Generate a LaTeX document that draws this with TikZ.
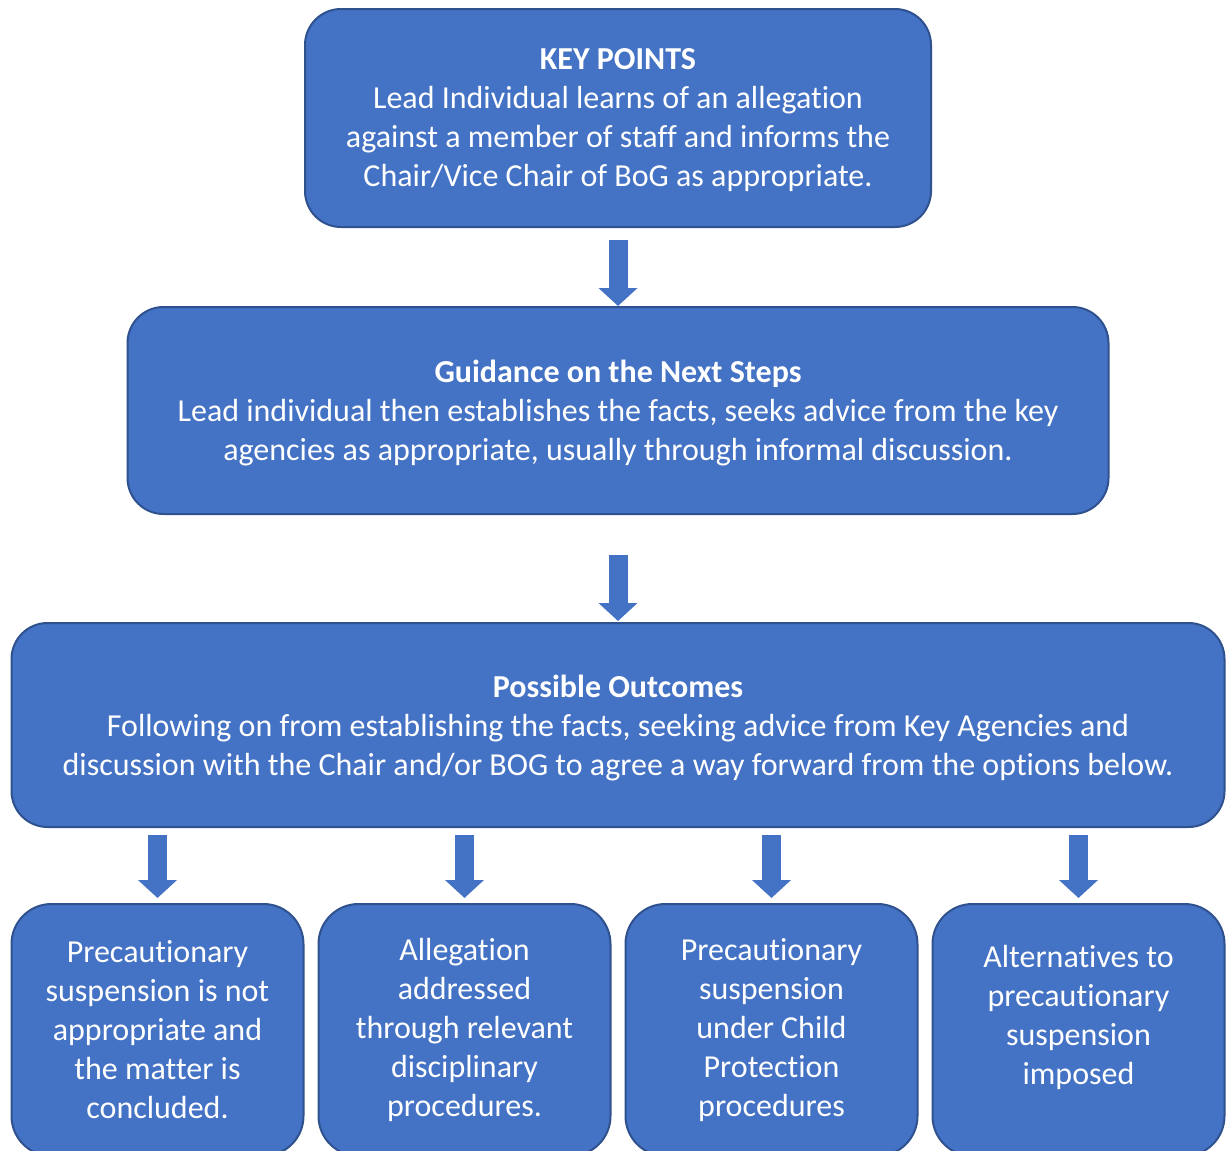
\documentclass[tikz,border=0pt]{standalone}
\usepackage{fontspec}
\setmainfont[Ligatures=NoCommon]{Carlito}
\usetikzlibrary{arrows.meta, positioning}
\definecolor{boxblue}{HTML}{4472C4}
\definecolor{edgeblue}{HTML}{2F528F}

\begin{document}
\begin{tikzpicture}[
    x=1pt, y=-1pt,
    box/.style={rectangle, rounded corners=36pt, draw=edgeblue, line width=2pt, fill=boxblue, text=white, align=center, font=\fontsize{32}{39}\selectfont, inner sep=0pt},
    step box/.style={box, text depth=-4pt},
    outcome/.style={box, minimum width=292pt, minimum height=252pt, rounded corners=40pt},
    arrow/.style={draw=boxblue, line width=19pt, -{Triangle[length=18pt, width=38pt]}}
]
\useasboundingbox (0,0) rectangle (1226,1151);

% Main steps
\node (keypoints) [step box, minimum width=626pt, minimum height=218pt] at (618,118) {\textbf{KEY POINTS}\\Lead Individual learns of an allegation\\against a member of staff and informs the\\Chair/Vice Chair of BoG as appropriate.};

\node (guidance) [step box, minimum width=981pt, minimum height=207pt, below=78pt of keypoints] {\textbf{Guidance on the Next Steps}\\Lead individual then establishes the facts, seeks advice from the key\\agencies as appropriate, usually through informal discussion.};

\node (outcomes) [step box, minimum width=1213pt, minimum height=204pt, below=107pt of guidance] {\textbf{Possible Outcomes}\\Following on from establishing the facts, seeking advice from Key Agencies and\\discussion with the Chair and/or BOG to agree a way forward from the options below.};

% Options
\node (notsuspended) [outcome, anchor=north west] at ([yshift=-75pt]outcomes.south west) {Precautionary\\suspension is not\\appropriate and\\the matter is\\concluded.};
\node (disciplinary) [outcome, right=13pt of notsuspended] {Allegation\\addressed\\through relevant\\disciplinary\\procedures.};
\node (childprotection) [outcome, right=13pt of disciplinary] {Precautionary\\suspension\\under Child\\Protection\\procedures};
\node (alternatives) [outcome, right=13pt of childprotection, text depth=30pt] {Alternatives to\\precautionary\\suspension\\imposed};

% Connections
\draw [arrow, shorten <=12pt] (keypoints) -- (guidance);
\draw [arrow, shorten <=40pt, shorten >=1pt] (guidance) -- (outcomes);
\foreach \opt in {notsuspended, disciplinary, childprotection, alternatives}
    \draw [arrow, shorten <=7pt, shorten >=5pt] (outcomes.south -| \opt.north) -- (\opt.north);

\end{tikzpicture}
\end{document}
